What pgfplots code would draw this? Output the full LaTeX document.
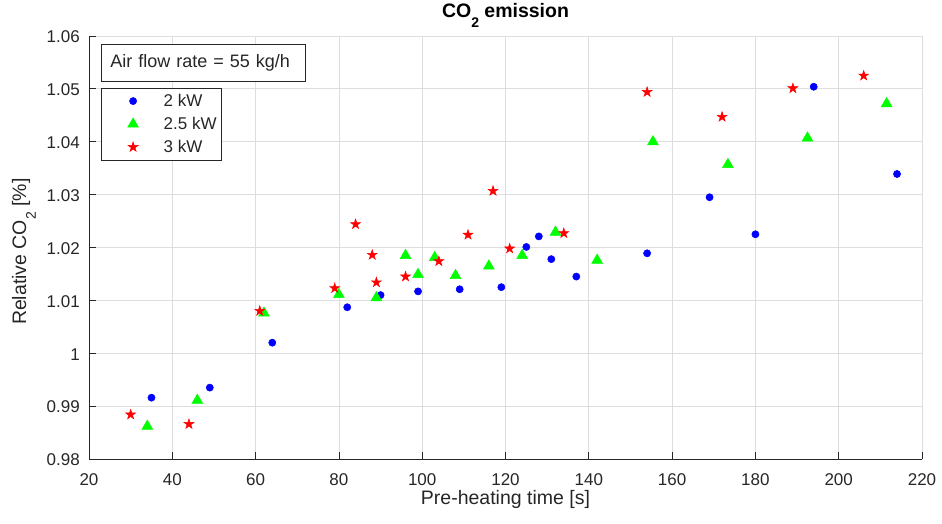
\documentclass[border=0pt]{standalone}
\usepackage{fontspec}
\setmainfont{Liberation Sans}
\usepackage{graphicx}
\usepackage{pgfplots}
\pgfplotsset{compat=1.18}
\definecolor{mgreen}{rgb}{0,1,0}
\definecolor{txt}{rgb}{0.15,0.15,0.15}
\newcommand{\msub}[1]{\raisebox{-0.5em}{\fontsize{14}{14}\selectfont #1}}
\pgfdeclareplotmark{pentagram}{%
  \pgfpathmoveto{\pgfpointpolar{90}{\pgfplotmarksize}}%
  \pgfpathlineto{\pgfpointpolar{126}{0.382*\pgfplotmarksize}}%
  \pgfpathlineto{\pgfpointpolar{162}{\pgfplotmarksize}}%
  \pgfpathlineto{\pgfpointpolar{198}{0.382*\pgfplotmarksize}}%
  \pgfpathlineto{\pgfpointpolar{234}{\pgfplotmarksize}}%
  \pgfpathlineto{\pgfpointpolar{270}{0.382*\pgfplotmarksize}}%
  \pgfpathlineto{\pgfpointpolar{306}{\pgfplotmarksize}}%
  \pgfpathlineto{\pgfpointpolar{342}{0.382*\pgfplotmarksize}}%
  \pgfpathlineto{\pgfpointpolar{18}{\pgfplotmarksize}}%
  \pgfpathlineto{\pgfpointpolar{54}{0.382*\pgfplotmarksize}}%
  \pgfpathclose
  \pgfusepathqfillstroke
}
\begin{document}
\begin{tikzpicture}[x=1pt,y=1pt]
\useasboundingbox (0,0) rectangle (942,524);
\begin{axis}[
  at={(89pt,65pt)}, anchor=south west,
  scale only axis, width=833pt, height=423pt,
  xmin=20, xmax=220, ymin=0.98, ymax=1.06,
  xtick={20,40,...,220},
  ytick={0.98,0.99,1,1.01,1.02,1.03,1.04,1.05,1.06},
  yticklabels={0.98,0.99,1,1.01,1.02,1.03,1.04,1.05,1.06},
  axis x line*=bottom, axis y line*=left,
  x axis line style={-}, y axis line style={-},
  axis line style={draw=txt, line width=0.8pt},
  tick align=inside, major tick length=7pt,
  tick style={draw=txt, line width=0.8pt},
  grid=major,
  major grid style={draw=black!13, line width=0.8pt},
  /pgf/number format/assume math mode=true,
  xticklabel style={font=\fontsize{17}{17}\selectfont, text=txt, anchor=base, inner sep=0pt, yshift=-26.7pt},
  yticklabel style={font=\fontsize{17}{17}\selectfont, text=txt, anchor=east, inner sep=0pt, xshift=-9pt, yshift=-1pt},
  every axis title/.style={at={(axis description cs:0.5,1.0442)}, anchor=base, font=\fontsize{19.5}{19.5}\selectfont\bfseries, text=black},
  every axis x label/.style={at={(axis description cs:0.5,-0.1087)}, anchor=base, font=\fontsize{19.5}{19.5}\selectfont, text=txt},
  every axis y label/.style={at={(axis description cs:-0.0756,0.49)}, rotate=90, anchor=base, font=\fontsize{19.5}{19.5}\selectfont, text=txt},
  title={CO\msub{2} emission},
  xlabel={Pre-heating time [s]},
  ylabel={Relative CO\msub{2} [\%]},
  legend style={at={(axis description cs:0.01405,0.8778)}, anchor=north west,
    draw=txt, line width=0.8pt, fill=white, inner xsep=0pt, inner ysep=1.5pt,
    row sep=0pt, column sep=0pt, font=\fontsize{17}{17}\selectfont, text=txt,
    nodes={draw=none, inner sep=0pt, anchor=west}},
  legend cell align=left,
  legend image code/.code={\path[draw=none,fill=none] (-32pt,-11.5pt) rectangle (30.6pt,11.5pt); \draw[#1] plot coordinates {(0pt,0pt)};},
]
\addplot[only marks, mark=*, mark size=3.6pt, mark options={draw=blue, fill=blue, line width=0.5pt}] coordinates {
(35,0.9916)(49,0.9935)(64,1.0020)(82,1.0087)(90,1.0110)(99,1.0117)(109,1.0121)(119,1.0125)(125,1.0201)(128,1.0221)(131,1.0178)(137,1.0145)(154,1.0189)(169,1.0295)(180,1.0225)(194,1.0504)(214,1.0339)
};
\addlegendentry{2 kW}
\addplot[only marks, mark=triangle*, mark size=6.2pt, mark options={draw=mgreen, fill=mgreen, line width=0.5pt}] coordinates {
(34,0.9862)(46,0.9911)(62,1.0076)(80,1.0111)(89,1.0105)(96,1.0185)(99,1.0149)(103,1.0181)(108,1.0147)(116,1.0165)(124,1.0185)(132,1.0229)(142,1.0176)(155.4,1.0400)(173.4,1.0357)(192.5,1.0407)(211.5,1.0472)
};
\addlegendentry{2.5 kW\hspace*{4.7pt}}
\addplot[only marks, mark=pentagram, mark size=5.2pt, mark options={draw=red, fill=red, line width=0.5pt}] coordinates {
(30,0.9884)(44,0.9866)(61,1.0080)(79,1.0123)(84,1.0244)(88,1.0186)(89,1.0134)(96,1.0145)(104,1.0174)(111,1.0224)(117,1.0307)(121,1.0198)(134,1.0227)(154,1.0494)(172,1.0447)(189,1.0501)(206,1.0525)
};
\addlegendentry{3 kW}
\node[draw=txt, line width=0.8pt, fill=white, anchor=north west, text width=186pt, minimum height=37pt, inner xsep=9pt, inner ysep=0pt, align=left, font=\fontsize{18}{18}\selectfont, text=txt] at (rel axis cs:0.01441,0.98109) {Air flow rate = 55 kg/h};
\end{axis}
\end{tikzpicture}
\end{document}
